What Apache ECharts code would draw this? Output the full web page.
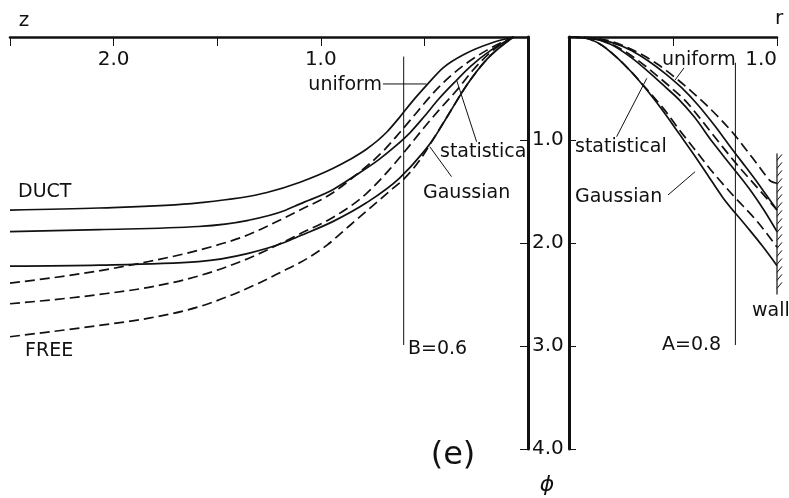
<!DOCTYPE html>
<html>
<head>
<meta charset="utf-8">
<script src="https://cdn.jsdelivr.net/npm/echarts/dist/echarts.min.js"></script>
<style>
  html, body { margin: 0; padding: 0; background: #fff; }
  #chart { width: 789px; height: 498px; }
</style>
</head>
<body>
<div id="chart"></div>
<script>
// Tick labels shown on the axes
const zTickLabels = [1.0, 2.0];
const rTickLabels = [1.0];
const phiTickLabels = [1.0, 2.0, 3.0, 4.0];

// Left panel: potential phi along the axis versus distance z  [z, phi]
const ductUniformZ = [[0.07,0],[0.18,0.06],[0.30,0.16],[0.41,0.30],[0.49,0.47],[0.56,0.63],[0.62,0.78],[0.68,0.92],[0.78,1.09],[0.86,1.19],[0.94,1.275],[1.10,1.41],[1.26,1.51],[1.59,1.61],[2.07,1.66],[2.5,1.68]];
const freeUniformZ = [[0.07,0],[0.20,0.13],[0.30,0.26],[0.38,0.39],[0.46,0.55],[0.54,0.74],[0.62,0.93],[0.70,1.11],[0.83,1.34],[0.94,1.51],[1.10,1.68],[1.18,1.76],[1.35,1.92],[1.59,2.07],[1.83,2.18],[2.07,2.27],[2.5,2.39]];
const ductStatZ = [[0.07,0],[0.18,0.13],[0.28,0.29],[0.345,0.42],[0.43,0.60],[0.50,0.77],[0.57,0.93],[0.64,1.06],[0.72,1.19],[0.83,1.34],[0.94,1.48],[1.10,1.62],[1.18,1.69],[1.35,1.78],[1.59,1.84],[2.07,1.87],[2.5,1.89]];
const freeStatZ = [[0.07,0],[0.17,0.13],[0.265,0.32],[0.345,0.52],[0.43,0.71],[0.51,0.90],[0.59,1.10],[0.67,1.29],[0.78,1.52],[0.94,1.75],[1.10,1.91],[1.20,2.01],[1.35,2.15],[1.59,2.32],[1.83,2.43],[2.07,2.50],[2.5,2.59]];
const ductGaussZ = [[0.07,0],[0.20,0.22],[0.30,0.48],[0.38,0.74],[0.46,1.00],[0.51,1.13],[0.62,1.37],[0.78,1.61],[0.94,1.79],[1.10,1.93],[1.17,1.99],[1.35,2.10],[1.59,2.18],[2.07,2.215],[2.5,2.225]];
const freeGaussZ = [[0.07,0],[0.20,0.22],[0.30,0.48],[0.38,0.74],[0.46,1.00],[0.52,1.19],[0.595,1.37],[0.67,1.50],[0.75,1.64],[0.86,1.83],[0.97,2.02],[1.10,2.19],[1.17,2.26],[1.30,2.39],[1.59,2.62],[1.83,2.73],[2.07,2.80],[2.5,2.91]];

// Right panel: potential phi versus radius r  [r, phi]
const ductUniformR = [[0,0],[0.1,0.01],[0.2,0.05],[0.3,0.13],[0.38,0.23],[0.46,0.35],[0.54,0.49],[0.62,0.66],[0.70,0.86],[0.77,1.05],[0.83,1.21],[0.89,1.37],[0.94,1.51],[1.0,1.68]];
const freeUniformR = [[0,0],[0.1,0.005],[0.2,0.04],[0.3,0.12],[0.43,0.27],[0.52,0.41],[0.59,0.53],[0.66,0.66],[0.734,0.81],[0.80,0.96],[0.85,1.09],[0.90,1.22],[0.94,1.33],[0.97,1.40],[1.0,1.42]];
const ductStatR = [[0,0],[0.1,0.012],[0.2,0.07],[0.30,0.20],[0.40,0.37],[0.46,0.48],[0.53,0.61],[0.60,0.77],[0.69,1.02],[0.78,1.25],[0.88,1.51],[0.94,1.69],[1.0,1.89]];
const freeStatR = [[0,0],[0.1,0.01],[0.2,0.065],[0.32,0.21],[0.42,0.37],[0.49,0.49],[0.56,0.62],[0.63,0.79],[0.72,1.02],[0.80,1.22],[0.90,1.45],[1.0,1.68]];
const ductGaussR = [[0,0],[0.08,0.012],[0.15,0.07],[0.22,0.18],[0.30,0.34],[0.38,0.53],[0.46,0.74],[0.53,0.94],[0.60,1.14],[0.66,1.32],[0.74,1.56],[0.85,1.83],[0.93,2.03],[1.0,2.22]];
const freeGaussR = [[0,0],[0.08,0.012],[0.15,0.07],[0.22,0.18],[0.30,0.34],[0.38,0.52],[0.46,0.71],[0.53,0.90],[0.60,1.08],[0.69,1.31],[0.79,1.54],[0.90,1.78],[1.0,2.04]];

// Reference positions drawn as thin vertical lines
const B = 0.6;
const A = 0.8;
// Extent of the hatched wall at r = 1
const wallR = 1.0, wallFrom = 1.13, wallTo = 2.5;

const INK = '#111';
const FONT = '"DejaVu Sans", "Noto Sans", sans-serif';
const DASH = [10, 5];

const chart = echarts.init(document.getElementById('chart'), null, { renderer: 'canvas' });

// Monotone cubic (Fritsch–Carlson style) through pixel points sorted by x
function monotonePath(pts) {
  const n = pts.length;
  const h = [], s = [], t = new Array(n);
  for (let i = 0; i < n - 1; i++) {
    h[i] = pts[i + 1][0] - pts[i][0];
    s[i] = (pts[i + 1][1] - pts[i][1]) / h[i];
  }
  for (let i = 1; i < n - 1; i++) {
    const p = (s[i - 1] * h[i] + s[i] * h[i - 1]) / (h[i - 1] + h[i]);
    t[i] = (Math.sign(s[i - 1]) + Math.sign(s[i])) *
      Math.min(Math.abs(s[i - 1]), Math.abs(s[i]), 0.5 * Math.abs(p)) || 0;
  }
  if (n === 2) { t[0] = t[1] = s[0]; }
  else {
    t[0] = (3 * s[0] - t[1]) / 2;
    t[n - 1] = (3 * s[n - 2] - t[n - 2]) / 2;
  }
  let d = `M${pts[0][0]},${pts[0][1]}`;
  for (let i = 0; i < n - 1; i++) {
    const dx = h[i] / 3;
    d += ` C${pts[i][0] + dx},${pts[i][1] + t[i] * dx} ${pts[i + 1][0] - dx},${pts[i + 1][1] - t[i + 1] * dx} ${pts[i + 1][0]},${pts[i + 1][1]}`;
  }
  return d;
}

function curve(name, data, dashed, gi) {
  return {
    name, type: 'custom', data, xAxisIndex: gi, yAxisIndex: gi,
    encode: { x: 0, y: 1 }, silent: true, clip: false, z: 3,
    renderItem: (params, api) => {
      if (params.dataIndex !== 0) return;
      const pts = data.map(p => api.coord(p)).sort((a, b) => a[0] - b[0]);
      return {
        type: 'path',
        shape: { pathData: monotonePath(pts) },
        style: { fill: 'none', stroke: INK, lineWidth: 1.7, lineDash: dashed ? DASH : null, lineJoin: 'round' }
      };
    }
  };
}

// Thin straight annotation lines: [x1, y1, x2, y2] in data units
function thinLines(name, segs, gi) {
  return {
    name, type: 'custom', data: segs, xAxisIndex: gi, yAxisIndex: gi,
    encode: { x: [0, 2], y: [1, 3] }, silent: true, clip: false, z: 2,
    renderItem: (params, api) => {
      const a = api.coord([api.value(0), api.value(1)]);
      const b = api.coord([api.value(2), api.value(3)]);
      return {
        type: 'line', shape: { x1: a[0], y1: a[1], x2: b[0], y2: b[1] },
        style: { stroke: INK, lineWidth: 1 }
      };
    }
  };
}

const axisLineStyle = { color: INK, width: 2.6 };

const option = {
  animation: false,
  backgroundColor: '#fff',
  grid: [
    { left: 10, top: 37, width: 518, height: 412, containLabel: false, outerBoundsMode: 'none' },
    { left: 569, top: 37, width: 208, height: 412, containLabel: false, outerBoundsMode: 'none' }
  ],
  xAxis: [
    {
      gridIndex: 0, type: 'value', min: 0, max: 2.5, interval: 0.5, inverse: true, position: 'top',
      axisLine: { show: true, lineStyle: axisLineStyle },
      axisTick: { show: true, inside: true, length: 9, lineStyle: { color: INK, width: 1 } },
      axisLabel: {
        inside: true, margin: 13, color: INK, fontSize: 20, fontFamily: FONT,
        formatter: v => zTickLabels.includes(v) ? v.toFixed(1) : ''
      },
      splitLine: { show: false }
    },
    {
      gridIndex: 1, type: 'value', min: 0, max: 1, interval: 0.5, position: 'top',
      axisLine: { show: true, lineStyle: axisLineStyle },
      axisTick: { show: true, inside: true, length: 9, lineStyle: { color: INK, width: 1 } },
      axisLabel: {
        inside: true, margin: 13, color: INK, fontSize: 20, fontFamily: FONT, align: 'right',
        formatter: v => rTickLabels.includes(v) ? v.toFixed(1) : ''
      },
      splitLine: { show: false }
    }
  ],
  yAxis: [
    {
      gridIndex: 0, type: 'value', min: 0, max: 4, interval: 1, inverse: true, position: 'right',
      axisLine: { show: true, lineStyle: { color: INK, width: 3 } },
      axisTick: { show: true, inside: true, length: 8, lineStyle: { color: INK, width: 1 } },
      axisLabel: {
        margin: 4, color: INK, fontSize: 20, fontFamily: FONT,
        formatter: v => phiTickLabels.includes(v) ? v.toFixed(1) : ''
      },
      splitLine: { show: false }
    },
    {
      gridIndex: 1, type: 'value', min: 0, max: 4, interval: 1, inverse: true, position: 'left',
      axisLine: { show: true, lineStyle: { color: INK, width: 3 } },
      axisTick: { show: true, inside: true, length: 7, lineStyle: { color: INK, width: 1 } },
      axisLabel: { show: false },
      splitLine: { show: false }
    }
  ],
  series: [
    curve('uniform duct (z)', ductUniformZ, false, 0),
    curve('uniform free (z)', freeUniformZ, true, 0),
    curve('statistical duct (z)', ductStatZ, false, 0),
    curve('statistical free (z)', freeStatZ, true, 0),
    curve('Gaussian duct (z)', ductGaussZ, false, 0),
    curve('Gaussian free (z)', freeGaussZ, true, 0),
    thinLines('annotations (z)', [
      [B, 0.19, B, 2.99],
      [0.70, 0.456, 0.49, 0.456],
      [0.248, 1.017, 0.345, 0.417],
      [0.369, 1.356, 0.474, 1.065]
    ], 0),

    curve('uniform duct (r)', ductUniformR, false, 1),
    curve('uniform free (r)', freeUniformR, true, 1),
    curve('statistical duct (r)', ductStatR, false, 1),
    curve('statistical free (r)', freeStatR, true, 1),
    curve('Gaussian duct (r)', ductGaussR, false, 1),
    curve('Gaussian free (r)', freeGaussR, true, 1),
    thinLines('annotations (r)', [
      [A, 0.25, A, 2.99],
      [0.553, 0.30, 0.51, 0.417],
      [0.229, 0.968, 0.374, 0.401],
      [0.476, 1.534, 0.606, 1.308]
    ], 1),

    {
      name: 'wall', type: 'custom', xAxisIndex: 1, yAxisIndex: 1, silent: true, clip: false,
      data: [[wallR, wallFrom, wallTo]], encode: { x: 0, y: [1, 2] },
      renderItem: (params, api) => {
        const top = api.coord([api.value(0), api.value(1)]);
        const bot = api.coord([api.value(0), api.value(2)]);
        const children = [{
          type: 'line', shape: { x1: top[0], y1: top[1], x2: bot[0], y2: bot[1] },
          style: { stroke: INK, lineWidth: 1.2 }
        }];
        for (let y = top[1] + 7; y <= bot[1]; y += 8) {
          children.push({
            type: 'line', shape: { x1: top[0], y1: y, x2: top[0] + 5, y2: y - 6 },
            style: { stroke: INK, lineWidth: 1 }
          });
        }
        return { type: 'group', children };
      }
    }
  ],
  graphic: [
    { type: 'text', x: 24, y: 21, style: { text: 'z', font: `20px ${FONT}`, fill: INK, align: 'center', verticalAlign: 'middle' } },
    { type: 'text', x: 779, y: 19, style: { text: 'r', font: `20px ${FONT}`, fill: INK, align: 'center', verticalAlign: 'middle' } },
    { type: 'text', x: 18, y: 192, style: { text: 'DUCT', font: `19px ${FONT}`, fill: INK, align: 'left', verticalAlign: 'middle' } },
    { type: 'text', x: 25, y: 351, style: { text: 'FREE', font: `19px ${FONT}`, fill: INK, align: 'left', verticalAlign: 'middle' } },
    { type: 'text', x: 382, y: 85, style: { text: 'uniform', font: `19px ${FONT}`, fill: INK, align: 'right', verticalAlign: 'middle' } },
    { type: 'text', x: 440, y: 152, style: { text: 'statistical', font: `19px ${FONT}`, fill: INK, align: 'left', verticalAlign: 'middle' } },
    { type: 'text', x: 423, y: 193, style: { text: 'Gaussian', font: `19px ${FONT}`, fill: INK, align: 'left', verticalAlign: 'middle' } },
    { type: 'text', x: 408, y: 349, style: { text: 'B=0.6', font: `19px ${FONT}`, fill: INK, align: 'left', verticalAlign: 'middle' } },
    { type: 'text', x: 662, y: 60, style: { text: 'uniform', font: `19px ${FONT}`, fill: INK, align: 'left', verticalAlign: 'middle' } },
    { type: 'text', x: 575, y: 147, style: { text: 'statistical', font: `19px ${FONT}`, fill: INK, align: 'left', verticalAlign: 'middle' } },
    { type: 'text', x: 575, y: 197, style: { text: 'Gaussian', font: `19px ${FONT}`, fill: INK, align: 'left', verticalAlign: 'middle' } },
    { type: 'text', x: 662, y: 345, style: { text: 'A=0.8', font: `19px ${FONT}`, fill: INK, align: 'left', verticalAlign: 'middle' } },
    { type: 'text', x: 752, y: 311, style: { text: 'wall', font: `19px ${FONT}`, fill: INK, align: 'left', verticalAlign: 'middle' } },
    { type: 'text', x: 453, y: 456, style: { text: '(e)', font: `32px ${FONT}`, fill: INK, align: 'center', verticalAlign: 'middle' } },
    { type: 'text', x: 547, y: 485, style: { text: 'ϕ', font: `italic 22px ${FONT}`, fill: INK, align: 'center', verticalAlign: 'middle' } }
  ]
};

chart.setOption(option);
</script>
</body>
</html>
